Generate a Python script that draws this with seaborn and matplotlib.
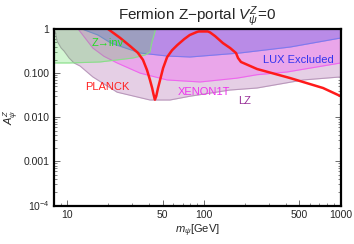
import numpy as np
import pandas as pd
import matplotlib
matplotlib.use("Agg")
import matplotlib.pyplot as plt
import seaborn as sns
from matplotlib.ticker import FixedLocator, NullFormatter, LogLocator

# ---- data ----
planck_mass = [20, 24.5, 29, 33, 36, 38.5, 40.5, 42, 43, 44, 45, 46.3, 48, 50.5, 54, 58.7,
               64, 72, 79, 89, 92, 107, 111, 121, 138, 156, 172, 178, 187, 245, 426, 743, 1000]
planck_coup = [1.0, 0.63, 0.41, 0.29, 0.20, 0.118, 0.070, 0.046, 0.033, 0.025, 0.030, 0.045,
               0.070, 0.13, 0.23, 0.33, 0.43, 0.59, 0.73, 0.855, 0.88, 0.88, 0.84, 0.69,
               0.48, 0.37, 0.286, 0.22, 0.179, 0.124, 0.0775, 0.046, 0.030]

zinv_mass = [8.0, 10.5, 17.5, 30.4, 37.2, 40.5, 41.9, 43.8, 44.5]
zinv_coup = [0.17, 0.17, 0.179, 0.22, 0.257, 0.30, 0.51, 0.81, 1.0]

lz_mass = [8.0, 8.3, 8.5, 9.1, 9.55, 10.4, 11.3, 12.5, 15.5, 23.3, 40.5, 56.7, 79.4, 155.6, 245, 531, 1000]
lz_coup = [1.0, 0.81, 0.53, 0.37, 0.317, 0.22, 0.17, 0.145, 0.082, 0.037, 0.0246, 0.0246,
           0.030, 0.0414, 0.046, 0.070, 0.082]

xenon_mass = [12.1, 15.5, 18.7, 23.3, 34.3, 54, 94, 175, 245, 405, 1000]
xenon_coup = [1.0, 0.37, 0.24, 0.17, 0.10, 0.070, 0.063, 0.077, 0.092, 0.106, 0.17]

lux_mass = [12.9, 16.9, 21.0, 34.3, 54, 79.4, 184, 427, 1000]
lux_coup = [1.0, 0.73, 0.48, 0.286, 0.244, 0.232, 0.286, 0.39, 0.625]

xtick_vals = [10, 50, 100, 500, 1000]
xtick_labels = ["10", "50", "100", "500", "1000"]
ytick_vals = [1e-4, 1e-3, 1e-2, 1e-1, 1]
ytick_labels = [r"$10^{-4}$", "0.001", "0.010", "0.100", "1"]

# ---- style ----
sns.set_style("ticks")
plt.rcParams["font.family"] = ["Liberation Sans", "DejaVu Sans"]
plt.rcParams["mathtext.fontset"] = "custom"
plt.rcParams["mathtext.rm"] = "Liberation Sans"
plt.rcParams["mathtext.it"] = "Liberation Sans:italic"
plt.rcParams["mathtext.bf"] = "Liberation Sans:bold"

fig = plt.figure(figsize=(3.54, 2.44), dpi=100)
ax = fig.add_axes([53.5 / 354, 1 - 205.5 / 244, (340.7 - 53.5) / 354, (205.5 - 29) / 244])
ax.set_xscale("log")
ax.set_yscale("log")
ax.set_xlim(8, 1000)
ax.set_ylim(1e-4, 1)

top = 1.0
# LZ (lightest)
ax.fill_between(lz_mass, lz_coup, top, color="#e5cfe5", lw=0, zorder=1)
ax.plot(lz_mass, lz_coup, color="#b998bb", lw=0.8, zorder=1.1)
# XENON1T
ax.fill_between(xenon_mass, xenon_coup, top, color="#eaa6ea", lw=0, zorder=2)
ax.plot(xenon_mass, xenon_coup, color="#ee66ee", lw=0.8, zorder=2.1)
# LUX
ax.fill_between(lux_mass, lux_coup, top, color="#b98be7", lw=0, zorder=3)
ax.plot(lux_mass, lux_coup, color="#7f79ee", lw=0.8, zorder=3.1)
# Z -> inv (translucent green)
ax.fill_between(zinv_mass, zinv_coup, top, color="#44dd44", alpha=0.24, lw=0, zorder=4)
ax.plot(zinv_mass, zinv_coup, color="#8ade8a", lw=0.8, zorder=4.1)

# PLANCK relic curve
df = pd.DataFrame({"m": planck_mass, "A": planck_coup})
sns.lineplot(data=df, x="m", y="A", ax=ax, color="#ff1a1a", lw=1.8, sort=False, zorder=5)

ax.text(19.8, 0.49, "Z\u2192inv", color="#22dd22", fontsize=8, ha="center", va="center", zorder=6)
ax.text(495, 0.198, "LUX Excluded", color="#3333ee", fontsize=8, ha="center", va="center", zorder=6)
ax.text(19.8, 0.0484, "PLANCK", color="#ff2222", fontsize=8, ha="center", va="center", zorder=6)
ax.text(100.5, 0.0373, "XENON1T", color="#ee33ee", fontsize=8, ha="center", va="center", zorder=6)
ax.text(200, 0.0233, "LZ", color="#993399", fontsize=8, ha="center", va="center", zorder=6)

ax.xaxis.set_major_locator(FixedLocator(xtick_vals))
ax.set_xticklabels(xtick_labels)
ax.xaxis.set_minor_locator(LogLocator(base=10, subs=np.arange(1, 10)))
ax.xaxis.set_minor_formatter(NullFormatter())
ax.yaxis.set_major_locator(FixedLocator(ytick_vals))
ax.set_yticklabels(ytick_labels)
ax.yaxis.set_minor_locator(LogLocator(base=10, subs=np.arange(2, 10)))
ax.yaxis.set_minor_formatter(NullFormatter())
ax.tick_params(which="both", direction="in", top=True, right=True, labelsize=7.5, color="#555555", pad=3)
ax.tick_params(which="major", length=4, width=0.6)
ax.tick_params(which="minor", length=2, width=0.5)
for s in ax.spines.values():
    s.set_linewidth(1.6)
    s.set_color("black")
    s.set_zorder(10)

ax.set_xlabel(r"$m_\psi$[GeV]", fontsize=8, labelpad=2)
ax.set_ylabel(r"$A_\psi^Z$", fontsize=8, labelpad=2)
ax.set_title(r"Fermion Z$-$portal $V_\psi^Z$=0", fontsize=11, pad=4)

fig.savefig("out.png", dpi=100)
